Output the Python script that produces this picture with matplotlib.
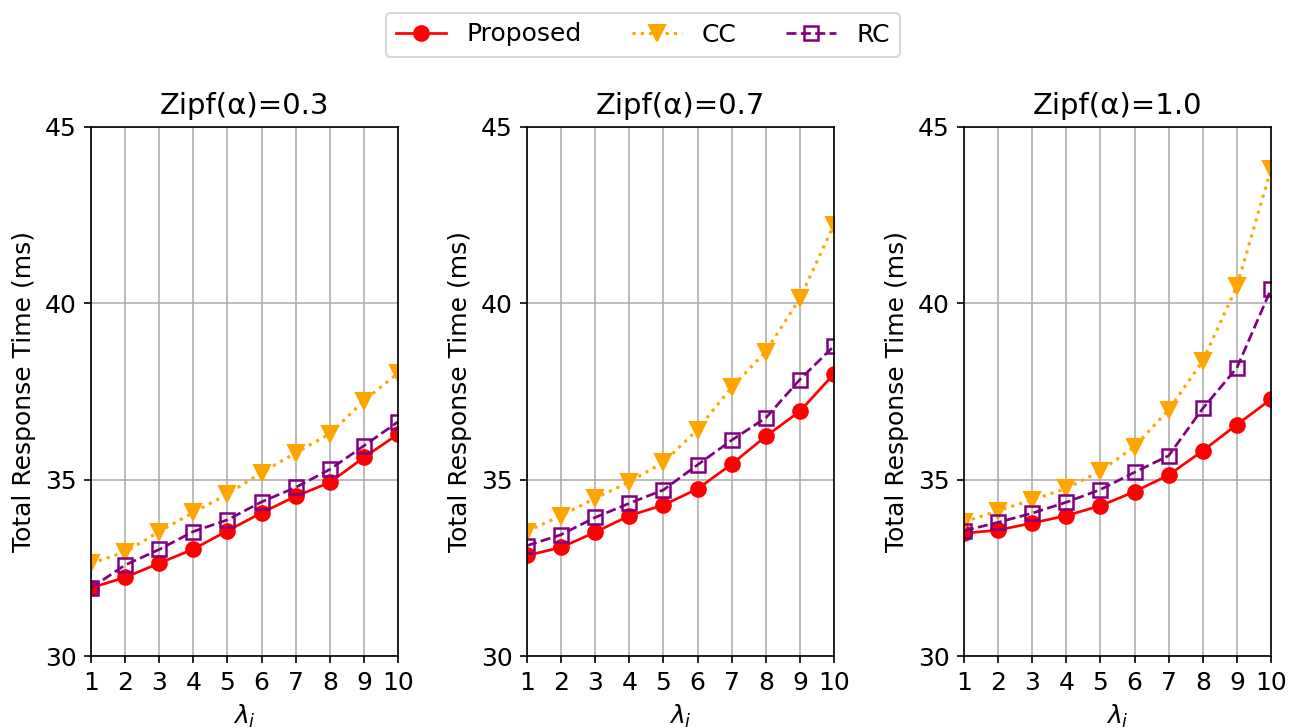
import matplotlib
matplotlib.use("Agg")
import matplotlib.pyplot as plt

x_vals = [1, 2, 3, 4, 5, 6, 7, 8, 9, 10]
titles = ["Zipf(α)=0.3", "Zipf(α)=0.7", "Zipf(α)=1.0"]

proposed_03 = [31.93, 32.23, 32.63, 33.03, 33.55, 34.06, 34.53, 34.92, 35.63, 36.29]
cc_03 = [32.63, 32.95, 33.53, 34.07, 34.59, 35.2, 35.76, 36.3, 37.24, 38.02]
rc_03 = [31.93, 32.58, 33.02, 33.53, 33.86, 34.37, 34.78, 35.29, 35.96, 36.64]

proposed_07 = [32.85, 33.08, 33.51, 33.98, 34.28, 34.74, 35.44, 36.23, 36.94, 38.0]
cc_07 = [33.53, 33.98, 34.47, 34.94, 35.49, 36.42, 37.62, 38.63, 40.14, 42.23]
rc_07 = [33.13, 33.44, 33.93, 34.33, 34.71, 35.42, 36.12, 36.75, 37.84, 38.79]

proposed_10 = [33.48, 33.57, 33.77, 33.98, 34.26, 34.66, 35.13, 35.82, 36.56, 37.28]
cc_10 = [33.8, 34.12, 34.43, 34.75, 35.24, 35.94, 36.98, 38.37, 40.48, 43.81]
rc_10 = [33.55, 33.79, 34.05, 34.36, 34.72, 35.21, 35.68, 37.02, 38.17, 40.4]

proposed_all = [proposed_03, proposed_07, proposed_10]
cc_all = [cc_03, cc_07, cc_10]
rc_all = [rc_03, rc_07, rc_10]

y_ticks = [30, 35, 40, 45]

fig = plt.figure(figsize=(1298 / 150, 728 / 150), dpi=150)
lefts = [91 / 1298, 527 / 1298, 964 / 1298]
bottom = 1 - 656 / 728
height = (656 - 127) / 728
width = 307 / 1298

handles = None
for i in range(3):
    ax = fig.add_axes([lefts[i], bottom, width, height])
    h1, = ax.plot(x_vals, proposed_all[i], color="red", linestyle="-", marker="o",
                  markersize=7, linewidth=1.3, label="Proposed")
    h2, = ax.plot(x_vals, cc_all[i], color="orange", linestyle=":", marker="v",
                  markersize=7.5, linewidth=1.5, label="CC")
    h3, = ax.plot(x_vals, rc_all[i], color="purple", linestyle="--", marker="s",
                  markersize=6.5, linewidth=1.3, markeredgewidth=1.2,
                  markerfacecolor="none", label="RC")
    handles = [h1, h2, h3]
    ax.set_xlim(1, 10)
    ax.set_ylim(30, 45)
    ax.set_xticks(x_vals)
    ax.set_yticks(y_ticks)
    ax.grid(True)
    ax.set_axisbelow(True)
    ax.set_title(titles[i], fontsize=14)
    ax.set_xlabel(r"$\lambda_i$", fontsize=12)
    ax.set_ylabel("Total Response Time (ms)", fontsize=12)
    ax.tick_params(labelsize=12)

fig.legend(handles=handles, labels=["Proposed", "CC", "RC"], loc="upper center",
           bbox_to_anchor=(0.4954, 1.0), ncol=3, fontsize=12)

fig.savefig("out.png", dpi=150)
